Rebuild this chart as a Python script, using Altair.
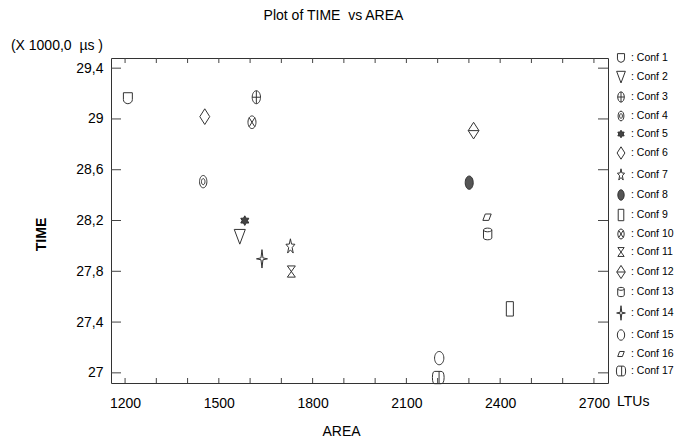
import altair as alt
import pandas as pd

# ---- data ----
confs = [f"Conf {i}" for i in range(1, 18)]
area = [1209, 1567, 1620, 1450, 1583, 1455, 1729, 2301, 2431, 1606, 1732,
        2315, 2360, 1638, 2205, 2358, 2202]
time = [29.163, 28.073, 29.171, 28.506, 28.199, 29.018, 27.994, 28.498, 27.504,
        28.974, 27.798, 28.908, 28.094, 27.898, 27.116, 28.226, 26.963]

x_label_values = [1200, 1500, 1800, 2100, 2400, 2700]
x_tick_values = list(range(1200, 2701, 100))
y_tick_values = [27.0, 27.4, 27.8, 28.2, 28.6, 29.0, 29.4]

title_text = "Plot of TIME\u00a0 vs AREA"
y_unit_text = "(X 1000,0\u00a0 µs )"
x_unit_text = "LTUs"

# ---- marker glyphs (custom SVG paths, unit box) ----
shapes = [
    "M-0.56,-0.69H0.56V0.15Q0.56,0.6 0,0.69Q-0.56,0.6 -0.56,0.15Z",            # 1 cup
    "M-0.69,-0.9H0.69L0,0.94Z",                                                  # 2 triangle down
    "M-0.52,0A0.52,0.81 0 1,0 0.52,0A0.52,0.81 0 1,0 -0.52,0ZM-0.52,0H0.52M0,-0.81V0.81",  # 3
    "M-0.46,0A0.46,0.77 0 1,0 0.46,0A0.46,0.77 0 1,0 -0.46,0Z"
    "M-0.22,0A0.22,0.38 0 1,0 0.22,0A0.22,0.38 0 1,0 -0.22,0Z",                  # 4 double oval
    "M0,-0.6L0.17,-0.3L0.5,-0.3L0.34,0L0.5,0.3L0.17,0.3L0,0.6L-0.17,0.3L-0.5,0.3"
    "L-0.34,0L-0.5,-0.3L-0.17,-0.3Z",                                            # 5 gear/star
    "M0,-0.98L0.62,0L0,0.98L-0.62,0Z",                                           # 6 diamond
    "M0,-0.98L0.14,-0.32L0.56,-0.3L0.22,0.12L0.35,0.8L0,0.4L-0.35,0.8L-0.22,0.12"
    "L-0.56,-0.3L-0.14,-0.32Z",                                                  # 7 star
    "M-0.5,0A0.5,0.83 0 1,0 0.5,0A0.5,0.83 0 1,0 -0.5,0Z",                       # 8 filled oval
    "M-0.44,-0.9H0.44V0.9H-0.44Z",                                               # 9 rectangle
    "M-0.5,0A0.5,0.79 0 1,0 0.5,0A0.5,0.79 0 1,0 -0.5,0Z"
    "M-0.35,-0.56L0.35,0.56M0.35,-0.56L-0.35,0.56",                              # 10 oval x
    "M-0.5,-0.7L0.5,-0.7L-0.5,0.7L0.5,0.7Z",                                     # 11 hourglass
    "M0,-1.04L0.67,0L0,1.04L-0.67,0ZM-0.67,0H0.67",                              # 12 diamond line
    "M-0.52,-0.5A0.52,0.23 0 0,1 0.52,-0.5V0.5A0.52,0.23 0 0,1 -0.52,0.5Z"
    "M-0.52,-0.5A0.52,0.23 0 0,0 0.52,-0.5",                                     # 13 cylinder
    "M0,-1.15L0.12,-0.12L0.69,0L0.12,0.12L0,1.15L-0.12,0.12L-0.69,0L-0.12,-0.12Z",  # 14 4-star
    "M-0.58,0A0.58,0.83 0 1,0 0.58,0A0.58,0.83 0 1,0 -0.58,0Z",                  # 15 oval
    "M-0.52,0.4L-0.22,-0.4H0.52L0.22,0.4Z",                                      # 16 parallelogram
    "M-0.45,-0.77H0.35Q0.73,-0.77 0.73,0V0Q0.73,0.77 0.35,0.77H-0.45Q-0.73,0.77 -0.73,0"
    "Q-0.73,-0.77 -0.45,-0.77ZM0.1,-0.77V0.77",                                  # 17 rounded rect
]
fills = ["transparent"] * 17
fills[4] = "#444"
fills[7] = "#555"
strokes = ["#333"] * 17

df = pd.DataFrame({"conf": confs, "area": area, "time": time})
xt_df = pd.DataFrame({"area": x_tick_values})
yt_df = pd.DataFrame({"time": y_tick_values})

W, H = 497, 325
FONT = "Liberation Sans"
FS = 14

xscale = alt.Scale(domain=[1155, 2745], nice=False, zero=False)
yscale = alt.Scale(domain=[26.92, 29.48], nice=False, zero=False)

xaxis = alt.Axis(values=x_label_values, format="d", labelPadding=13,
                 titleX=230, titlePadding=14)
yaxis = alt.Axis(values=y_tick_values, labelPadding=8,
                 labelExpr="replace(format(datum.value, '.3~g'), '.', ',')",
                 titleX=-70, titleY=176, titleBaseline="middle",
                 titleFontWeight="bold")


def X():
    return alt.X("area:Q", scale=xscale, axis=xaxis, title="AREA")


def Y():
    return alt.Y("time:Q", scale=yscale, axis=yaxis, title="TIME")


leg = alt.Legend(title=None, orient="none", legendX=503, legendY=-7,
                 labelExpr="': ' + datum.label")

points = alt.Chart(df).mark_point(size=256, strokeWidth=1, opacity=1).encode(
    x=X(), y=Y(),
    shape=alt.Shape("conf:N", scale=alt.Scale(domain=confs, range=shapes), legend=leg),
    fill=alt.Fill("conf:N", scale=alt.Scale(domain=confs, range=fills), legend=leg),
    stroke=alt.Stroke("conf:N", scale=alt.Scale(domain=confs, range=strokes), legend=leg),
)

tick_color = "#444"
xt_bottom = alt.Chart(xt_df).mark_rule(color=tick_color).encode(
    x=X(), y=alt.value(H), y2=alt.value(H - 5))
xt_top = alt.Chart(xt_df).mark_rule(color=tick_color).encode(
    x=X(), y=alt.value(0), y2=alt.value(5))
yt_left = alt.Chart(yt_df).mark_rule(color=tick_color).encode(
    y=Y(), x=alt.value(0), x2=alt.value(10))
yt_right = alt.Chart(yt_df).mark_rule(color=tick_color).encode(
    y=Y(), x=alt.value(W), x2=alt.value(W - 10))


def text_layer(txt, x, y, align, size=FS):
    return alt.Chart(pd.DataFrame({"t": [txt]})).mark_text(
        font=FONT, fontSize=size, align=align, baseline="middle", color="black").encode(
        text="t:N", x=alt.value(x), y=alt.value(y))


title_l = text_layer(title_text, 222.5, -42, "center")
unit_y = text_layer(y_unit_text, -8, -12, "right")
unit_x = text_layer(x_unit_text, 506, 19 + H, "left")

chart = alt.layer(points, xt_bottom, xt_top, yt_left, yt_right,
                  title_l, unit_y, unit_x).properties(
    width=W, height=H,
    autosize=alt.AutoSizeParams(type="none"),
    padding={"left": 103, "top": 50, "right": 70, "bottom": 55},
).configure_view(
    stroke="#333", strokeWidth=1
).configure_axis(
    grid=False, domain=False, ticks=False, tickSize=0,
    labelFont=FONT, labelFontSize=FS, labelColor="black",
    titleFont=FONT, titleFontSize=FS, titleColor="black", titleFontWeight="normal",
).configure_legend(
    symbolSize=160, symbolStrokeWidth=1, symbolStrokeColor="#333",
    labelFont=FONT, labelFontSize=10.5, labelColor="black", labelOffset=3,
    rowPadding=4, padding=0,
)

chart.save("out.html", embed_options={"renderer": "svg", "actions": False})
